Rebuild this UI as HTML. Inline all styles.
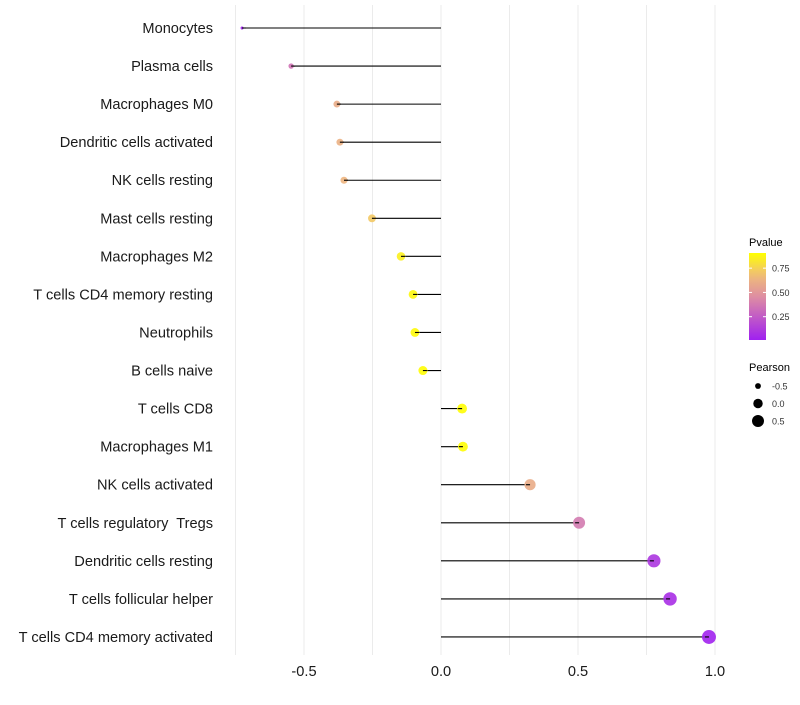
<!DOCTYPE html>
<html><head><meta charset="utf-8"><style>
body{margin:0;background:#fff;font-family:"Liberation Sans",sans-serif}
text{white-space:pre}
</style></head><body>
<svg id="c" width="800" height="700" style="font-family:'Liberation Sans',sans-serif"></svg>
<script>
const categories=["Monocytes","Plasma cells","Macrophages M0","Dendritic cells activated","NK cells resting","Mast cells resting","Macrophages M2","T cells CD4 memory resting","Neutrophils","B cells naive","T cells CD8","Macrophages M1","NK cells activated","T cells regulatory  Tregs","Dendritic cells resting","T cells follicular helper","T cells CD4 memory activated"];
const pearson=[-0.726,-0.547,-0.38,-0.369,-0.354,-0.252,-0.146,-0.102,-0.095,-0.066,0.077,0.080,0.325,0.504,0.777,0.836,0.978];
const pvalue=[0.01,0.35,0.6,0.62,0.64,0.72,0.85,0.88,0.89,0.9,0.9,0.9,0.6,0.38,0.1,0.07,0.02];
const xTicks=[-0.5,0,0.5,1.0];
const xTickLabels=["-0.5","0.0","0.5","1.0"];
const xGrid=[-0.75,-0.5,-0.25,0,0.25,0.5,0.75,1.0];
const legendTicks=[0.25,0.5,0.75];
const sizeBreaks=[-0.5,0,0.5];

const NS="http://www.w3.org/2000/svg";
const svg=document.getElementById('c');
function mk(t,a,p){const e=document.createElementNS(NS,t);for(const k in a)e.setAttribute(k,a[k]);(p||svg).appendChild(e);return e;}
const x=v=>441+v*274;
const y=i=>28+i*38.06;
const pMin=0.01,pMax=0.906;
function lerp(a,b,t){return a+(b-a)*t}
function col(p){let t=Math.max(0,Math.min(1,(p-pMin)/(pMax-pMin)));
 const s=[[0,[160,32,240]],[0.5,[222,142,162]],[0.75,[240,190,120]],[1,[255,255,0]]];
 for(let i=0;i<s.length-1;i++){if(t<=s[i+1][0]){const u=(t-s[i][0])/(s[i+1][0]-s[i][0]);return `rgb(${s[i][1].map((c,j)=>Math.round(lerp(c,s[i+1][1][j],u))).join(',')})`}}
 return 'rgb(255,255,0)';}
const r=v=>Math.sqrt(Math.max(0,2.25+27.3*(v+0.73)));

xGrid.forEach(g=>{const l=mk('line',{x1:x(g),x2:x(g),y1:5,y2:655,stroke:'#ebebeb','stroke-width':1});
});
categories.forEach((c,i)=>{
 const t=mk('text',{x:213,y:y(i)+5,'text-anchor':'end','font-size':14.6,fill:'#1a1a1a'});t.textContent=c;
 
 const l=mk('line',{x1:x(0),x2:x(pearson[i]),y1:y(i),y2:y(i),stroke:'#000','stroke-width':1.1});
 
 const d=mk('circle',{cx:x(pearson[i]),cy:y(i),r:r(pearson[i]),fill:col(pvalue[i]),'fill-opacity':0.9});
 
 const l2=mk('line',{x1:x(pearson[i])+(pearson[i]<0?4:-4),x2:x(pearson[i]),y1:y(i),y2:y(i),stroke:'#000','stroke-width':1.1});
 
});
xTicks.forEach((v,i)=>{const t=mk('text',{x:x(v),y:676,'text-anchor':'middle','font-size':14.6,fill:'#1a1a1a'});t.textContent=xTickLabels[i];
});
// legend
const lt=mk('text',{x:749,y:246,'font-size':11,fill:'#000'});lt.textContent='Pvalue';

const defs=mk('defs',{});const gr=mk('linearGradient',{id:'g',x1:0,y1:1,x2:0,y2:0},defs);
for(let k=0;k<=10;k++){mk('stop',{offset:k/10,'stop-color':col(pMin+(pMax-pMin)*k/10)},gr);}
const bar=mk('rect',{x:749,y:253,width:17,height:87,fill:'url(#g)'});

const ly=p=>340-(p-pMin)/(pMax-pMin)*87;
legendTicks.forEach(p=>{mk('line',{x1:749,x2:752,y1:ly(p),y2:ly(p),stroke:'#fff'});mk('line',{x1:763,x2:766,y1:ly(p),y2:ly(p),stroke:'#fff'});
 const t=mk('text',{x:772,y:ly(p)+3.5,'font-size':9,fill:'#333'});t.textContent=p.toFixed(2);
 });
const st=mk('text',{x:749,y:371,'font-size':11,fill:'#000'});st.textContent='Pearson';

sizeBreaks.forEach((v,i)=>{const cy=386+i*17.5;
 const c=mk('circle',{cx:758,cy:cy,r:r(v),fill:'#000'});
 const t=mk('text',{x:772,y:cy+3.5,'font-size':9,fill:'#333'});t.textContent=v===0?'0.0':String(v);
 });
</script>
</body></html>
